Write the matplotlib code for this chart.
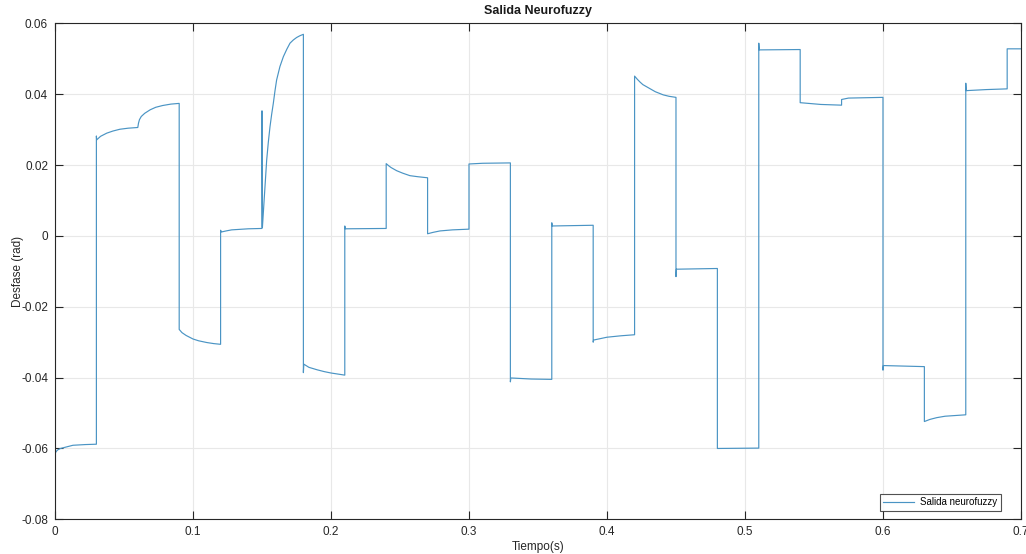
import matplotlib
matplotlib.use("Agg")
import matplotlib.pyplot as plt

# Phase output of the neuro-fuzzy controller, one row per 30 ms step.
# Repeated times mark the vertical switching edges (including the short overshoot spikes).
time_s = [
    0.0, 0.001, 0.002, 0.004, 0.007, 0.010, 0.013, 0.017, 0.022, 0.03,
    0.03, 0.0302, 0.033, 0.0375, 0.042, 0.047, 0.053, 0.06,
    0.0605, 0.0612, 0.0625, 0.065, 0.069, 0.073, 0.078, 0.084, 0.09,
    0.09, 0.092, 0.095, 0.098, 0.10, 0.104, 0.11, 0.115, 0.12,
    0.12, 0.1205, 0.124, 0.128, 0.14, 0.15,
    0.15, 0.1503, 0.1512, 0.1522, 0.1534, 0.1546, 0.1558, 0.157, 0.1582, 0.1594,
    0.1606, 0.163, 0.1655, 0.168, 0.1703, 0.1727, 0.1751, 0.1775, 0.18,
    0.18, 0.1803, 0.184, 0.19, 0.195, 0.20, 0.205, 0.21,
    0.21, 0.2103, 0.24,
    0.24, 0.2418, 0.2435, 0.2476, 0.252, 0.2572, 0.263, 0.27,
    0.27, 0.274, 0.279, 0.288, 0.30,
    0.30, 0.31, 0.33,
    0.33, 0.3303, 0.345, 0.36,
    0.36, 0.3603, 0.39,
    0.39, 0.3903, 0.395, 0.40, 0.41, 0.42,
    0.42, 0.422, 0.424, 0.426, 0.4287, 0.432, 0.435, 0.4408, 0.445, 0.45,
    0.45, 0.4503, 0.48,
    0.48, 0.51,
    0.51, 0.5103, 0.54,
    0.54, 0.555, 0.57,
    0.57, 0.575, 0.60,
    0.60, 0.6003, 0.63,
    0.63, 0.634, 0.639, 0.645, 0.652, 0.66,
    0.66, 0.6603, 0.675, 0.69,
    0.69, 0.70,
]
phase_rad = [
    -0.0614, -0.0608, -0.0604, -0.0600, -0.0597, -0.0594, -0.0591, -0.0590, -0.0589, -0.0588,
    0.0282, 0.0271, 0.0281, 0.0290, 0.0296, 0.0301, 0.0304, 0.0306,
    0.0318, 0.0328, 0.0337, 0.0346, 0.0356, 0.0363, 0.0368, 0.0372, 0.0374,
    -0.0264, -0.0273, -0.0281, -0.0287, -0.0291, -0.0296, -0.0301, -0.0304, -0.0306,
    0.0016, 0.0011, 0.0014, 0.0017, 0.0020, 0.0021,
    0.0353, 0.0024, 0.0080, 0.0139, 0.0214, 0.0265, 0.0308, 0.0343, 0.0374, 0.0409,
    0.0440, 0.0478, 0.0506, 0.0527, 0.0544, 0.0553, 0.0560, 0.0565, 0.0569,
    -0.0386, -0.0362, -0.0371, -0.0378, -0.0383, -0.0387, -0.0390, -0.0393,
    0.0028, 0.0020, 0.0021,
    0.0204, 0.0198, 0.0193, 0.0184, 0.0177, 0.0170, 0.0167, 0.0164,
    0.0006, 0.0010, 0.0014, 0.0017, 0.0019,
    0.0203, 0.0205, 0.0206,
    -0.0412, -0.0401, -0.0404, -0.0405,
    0.0037, 0.0028, 0.0030,
    -0.0300, -0.0294, -0.0290, -0.0286, -0.0282, -0.0279,
    0.0451, 0.0442, 0.0434, 0.0427, 0.0421, 0.0414, 0.0407, 0.0398, 0.0394, 0.0391,
    -0.0115, -0.0094, -0.0092,
    -0.0600, -0.0599,
    0.0544, 0.0525, 0.0526,
    0.0376, 0.0371, 0.0369,
    0.0385, 0.0389, 0.0391,
    -0.0379, -0.0366, -0.0369,
    -0.0524, -0.0518, -0.0513, -0.0509, -0.0507, -0.0505,
    0.0431, 0.0410, 0.0413, 0.0415,
    0.0528, 0.0528,
]

x_ticks = [0, 0.1, 0.2, 0.3, 0.4, 0.5, 0.6, 0.7]
x_tick_labels = ["0", "0.1", "0.2", "0.3", "0.4", "0.5", "0.6", "0.7"]
y_ticks = [-0.08, -0.06, -0.04, -0.02, 0, 0.02, 0.04, 0.06]
y_tick_labels = ["-0.08", "-0.06", "-0.04", "-0.02", "0", "0.02", "0.04", "0.06"]

plt.rcParams["font.family"] = ["Liberation Sans", "DejaVu Sans"]

axis_color = "#262626"
fig = plt.figure(figsize=(10.26, 5.54), dpi=100)
ax = fig.add_axes([0.0536, 0.0626, 0.9415, 0.8953])

ax.plot(time_s, phase_rad, color="#4a94c4", lw=0.85, label="Salida neurofuzzy")

ax.set_xlim(0, 0.7)
ax.set_ylim(-0.08, 0.06)
ax.set_xticks(x_ticks)
ax.set_xticklabels(x_tick_labels)
ax.set_yticks(y_ticks)
ax.set_yticklabels(y_tick_labels)

ax.grid(True, color="#e8e8e8", lw=0.8)
ax.set_axisbelow(True)
ax.tick_params(direction="in", length=6, width=0.8, colors=axis_color,
               labelsize=8.5, top=True, right=True, pad=5)
for side in ax.spines.values():
    side.set_color(axis_color)
    side.set_linewidth(0.8)

ax.set_title("Salida Neurofuzzy", fontsize=9, fontweight="bold", color="#1a1a1a", pad=7)
ax.set_xlabel("Tiempo(s)", fontsize=8.5, color=axis_color, labelpad=2)
ax.set_ylabel("Desfase (rad)", fontsize=8.5, color=axis_color)
ax.yaxis.set_label_coords(-0.032, 0.5)

leg = ax.legend(loc="lower right", bbox_to_anchor=(0.979, 0.017), fontsize=7,
                frameon=True, fancybox=False, handlelength=3.2, borderpad=0.35,
                borderaxespad=0.0, handletextpad=0.6)
leg.get_frame().set_edgecolor(axis_color)
leg.get_frame().set_linewidth(0.8)

fig.savefig("out.png", dpi=100, facecolor="white")
